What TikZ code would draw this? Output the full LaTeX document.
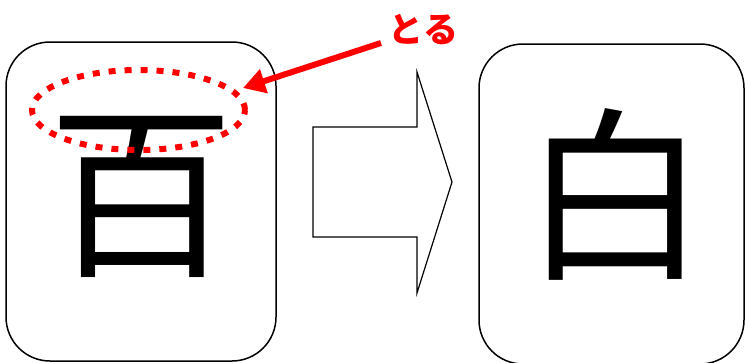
\documentclass[tikz,border=0pt]{standalone}
\usepackage{fontspec}
\newfontfamily\cjk{Noto Sans CJK JP}
\usetikzlibrary{shapes.geometric,arrows.meta}
\tikzset{
  panel/.style={draw=black, line width=1.5pt, rounded corners=44pt, inner sep=0pt},
  kanji/.style={inner sep=0pt, font=\cjk\fontsize{186}{186}\selectfont},
  redring/.style={draw=red, ellipse, line width=6pt, dash pattern=on 7pt off 9pt, inner sep=0pt},
  redarrow/.style={draw=red, line width=6pt, -{Triangle[length=22pt,width=24pt]}},
  bigarrow/.style={draw=black, line width=1.2pt, fill=white, line join=miter},
  note/.style={text=red, inner sep=0pt, font=\cjk\bfseries\fontsize{35}{35}\selectfont}
}
\begin{document}
\begin{tikzpicture}[x=1pt,y=-1pt]
\useasboundingbox (0,0) rectangle (745,362);
\fill[white] (0,0) rectangle (745,362);
% panels
\node[panel, minimum width=270pt, minimum height=319pt] (left) at (141,201.5) {};
\node[panel, minimum width=265pt, minimum height=320pt] (right) at (611.5,204) {};
% kanji
\node[kanji] (hyaku) at (141,197) {百};
\node[kanji] (shiro) at (615,194) {白};
% block arrow
\draw[bigarrow] (313,127) -- (417,127) -- (417,72) -- (452,182) -- (417,293) -- (417,237) -- (313,237) -- cycle;
% red ring
\node[redring, minimum width=213pt, minimum height=80pt] (ring) at (138.5,110) {};
% label
\node[note] (toru) at (423,30) {とる};
\coordinate (from) at (381,43);
\coordinate (to) at (243,88);
\draw[redarrow] (from) -- (to);
\end{tikzpicture}
\end{document}
